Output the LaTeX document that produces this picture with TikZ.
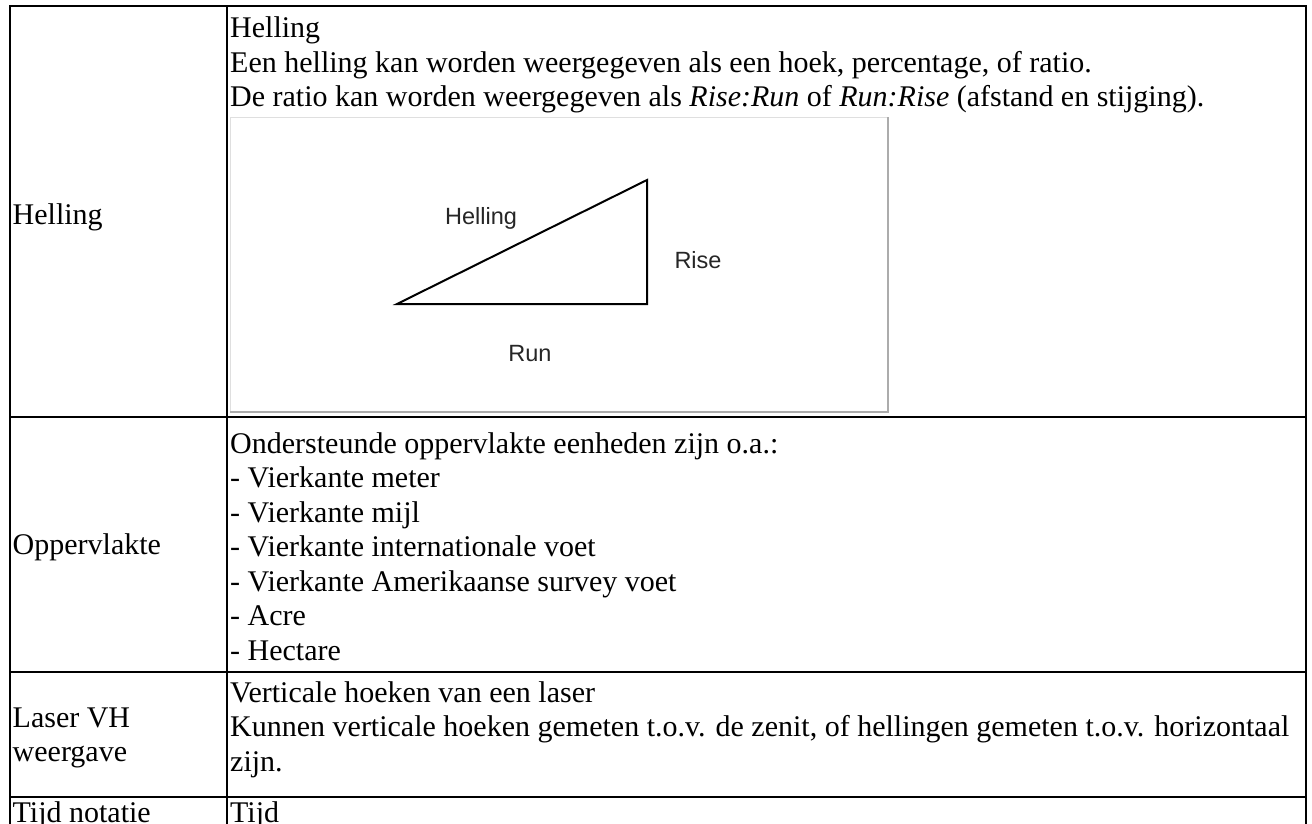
\documentclass[tikz,border=0pt]{standalone}
\usepackage{fontspec}
\setmainfont{Liberation Serif}
\newfontfamily\labelfont{Liberation Sans}
\begin{document}
\begin{tikzpicture}[x=1pt,y=-1pt,
  grid/.style={line width=2pt,black},
  txt/.style={anchor=base west,inner sep=0pt,font=\fontsize{30}{34.5}\selectfont},
  lbl/.style={anchor=center,inner sep=0pt,text=black!85,font=\labelfont\fontsize{23.5}{27}\selectfont}]
\useasboundingbox (0,0) rectangle (1312,824);
\fill[white] (0,0) rectangle (1312,824);
% table grid
\coordinate (tl) at (10,6);
\coordinate (tr) at (1306,6);
\coordinate (bl) at (10,824);
\coordinate (br) at (1306,824);
\coordinate (ct) at (227,6);
\coordinate (cb) at (227,824);
\draw[grid] (bl) -- (tl) -- (tr) -- (br);
\draw[grid] (ct) -- (cb);
\draw[grid] (10,417) -- (1306,417);
\draw[grid] (10,672) -- (1306,672);
\draw[grid] (10,797) -- (1306,797);
% left column
\node[txt] (l1) at (12.5,224) {Helling};
\node[txt] (l2) at (12.5,554) {Oppervlakte};
\node[txt] (l3a) at (12.5,727) {Laser VH};
\node[txt] (l3b) at (12.5,761.5) {weergave};
\node[txt] (l4) at (12.5,822) {Tijd notatie};
% right column row 1
\node[txt] (r1a) at (230,38) {Helling};
\node[txt] (r1b) at (230,72.5) {Een helling kan worden weergegeven als een hoek, percentage, of ratio.};
\node[txt] (r1c) at (230,107) {De ratio kan worden weergegeven als \textit{Rise:Run} of \textit{Run:Rise} (afstand en stijging).};
% image frame
\fill[white] (230,117) rectangle (889,413);
\draw[gray!25,line width=1pt] (230.5,413) -- (230.5,117.5) -- (889,117.5);
\draw[gray!65,line width=2pt] (230,412) -- (888,412) -- (888,117);
\coordinate (A) at (397,304);
\coordinate (B) at (647,304);
\coordinate (C) at (647,180);
\draw[line width=2pt,line join=miter] (A) -- (B) -- (C) -- cycle;
\node[lbl] (hl) at (481,218) {Helling};
\node[lbl] (rs) at (698,260) {Rise};
\node[lbl] (rn) at (530,354) {Run};
% row 2
\node[txt] (r2a) at (230,453) {Ondersteunde oppervlakte eenheden zijn o.a.:};
\node[txt] (r2b) at (230,487.5) {- Vierkante meter};
\node[txt] (r2c) at (230,522) {- Vierkante mijl};
\node[txt] (r2d) at (230,556.5) {- Vierkante internationale voet};
\node[txt] (r2e) at (230,591) {- Vierkante Amerikaanse survey voet};
\node[txt] (r2f) at (230,625.5) {- Acre};
\node[txt] (r2g) at (230,660) {- Hectare};
% row 3
\node[txt] (r3a) at (230,702) {Verticale hoeken van een laser};
\node[txt] (r3b) at (230,736.5) {Kunnen verticale hoeken gemeten t.o.v. de zenit, of hellingen gemeten t.o.v. horizontaal};
\node[txt] (r3c) at (230,771) {zijn.};
% row 4
\node[txt] (r4) at (230,822) {Tijd};
\end{tikzpicture}
\end{document}
